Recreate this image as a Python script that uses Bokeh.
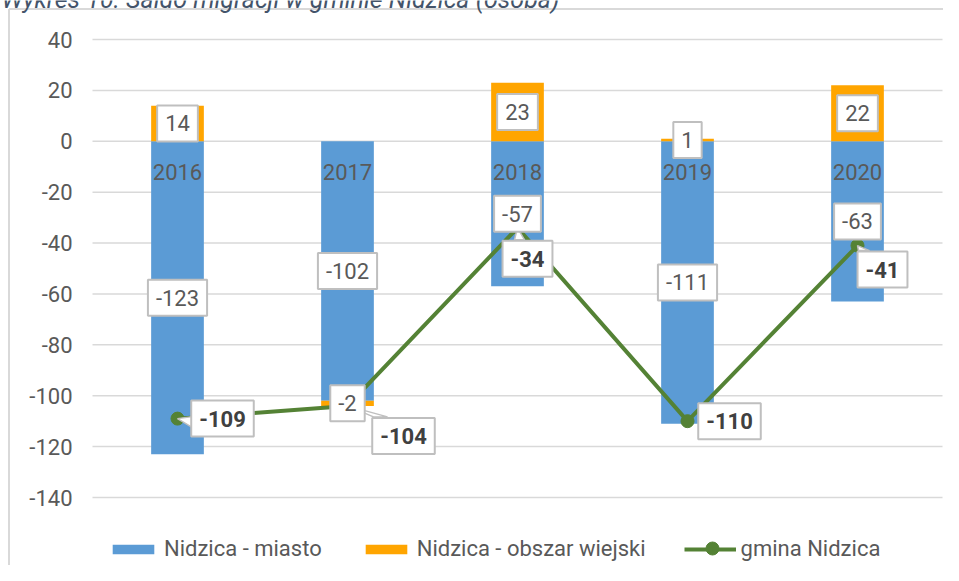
from bokeh.plotting import figure
from bokeh.models import Range1d, Label, Legend, LegendItem
from bokeh.embed import file_html
from bokeh.resources import INLINE

# ---------------- data ----------------
title_text = "Wykres 10. Saldo migracji w gminie Nidzica (osoba)"
years = ["2016", "2017", "2018", "2019", "2020"]
miasto = [-123, -102, -57, -111, -63]          # Nidzica - miasto
wiejski = [14, -2, 23, 1, 22]                  # Nidzica - obszar wiejski
gmina = [-109, -104, -34, -110, -41]           # gmina Nidzica
y_ticks = [40, 20, 0, -20, -40, -60, -80, -100, -120, -140]
series_names = ["Nidzica - miasto", "Nidzica - obszar wiejski", "gmina Nidzica"]

# ---------------- styling ----------------
FONT = "Roboto"
FS = "22px"
BLUE = "#5B9BD5"
ORANGE = "#FFA500"
GREEN = "#548235"
TXT = "#595959"
BOLD_TXT = "#404040"
BOX_LINE = "#bfbfbf"
GRID = "#d9d9d9"
TITLE_COLOR = "#44546A"

W, H = 943, 565
# plot-area bounds in canvas pixels
PA_L, PA_R, PA_T, PA_B = 92, 942, 39, 497
# legend placement (px)
LEG_X, LEG_Y, LEG_CY = 107, 4, 548
LEG_GLYPH_W, LEG_STANDOFF, LEG_SPACING = 52, 5, 38
LEG_MARKER_X = 712

n = len(years)
xs = [i + 0.5 for i in range(n)]
sx = (PA_R - PA_L) / n
sy = (PA_B - PA_T) / (max(y_ticks) - min(y_ticks))


def X(px):
    return (px - PA_L) / sx


def Y(py):
    return max(y_ticks) - (py - PA_T) / sy


# callout offsets (px) of the line-series labels and pointer bases relative to box centre
gmina_offsets = [(45, 0), (56, -30), (10, -31), (42, 0), (25, -24)]
pointer_bases = [
    [(-30, 2), (-30, -9)],
    [(-30, 19), (-16, 19)],
    [(-13, 19), (-3, 19)],
    None,
    [(-24, 19), (-13, 19)],
]

p = figure(width=W, height=H,
           x_range=Range1d(X(0), X(W)), y_range=Range1d(Y(H), Y(0)),
           x_axis_type=None, y_axis_type=None,
           output_backend="svg", toolbar_location=None, min_border=0)
p.outline_line_color = None
p.background_fill_color = "white"
p.border_fill_color = "white"
p.xgrid.visible = False
p.ygrid.visible = False

# chart border (left and top)
p.line([X(8.5), X(8.5)], [Y(8.5), Y(H)], line_color=GRID, line_width=2)
p.line([X(8.5), X(W)], [Y(8.5), Y(8.5)], line_color=GRID, line_width=2)

# gridlines
p.segment(x0=[0] * len(y_ticks), x1=[n] * len(y_ticks), y0=y_ticks, y1=y_ticks,
          line_color=GRID, line_width=1.5)

BAR_W = 0.31
r_blue = p.vbar(x=xs, bottom=miasto, top=[0] * n, width=BAR_W,
                fill_color=BLUE, line_color=None)
w_base = [0 if w >= 0 else min(m, 0) for m, w in zip(miasto, wiejski)]
w_top = [b + w for b, w in zip(w_base, wiejski)]
r_orange = p.vbar(x=xs, bottom=w_base, top=w_top, width=BAR_W,
                  fill_color=ORANGE, line_color=None)

r_line = p.line(xs, gmina, line_color=GREEN, line_width=4)
r_pts = p.scatter(xs, gmina, size=13, fill_color=GREEN, line_color=GREEN)

# callout pointers
ux, uy = 1 / sx, 1 / sy
pxs, pys = [], []
for x, y, (dx, dy), base in zip(xs, gmina, gmina_offsets, pointer_bases):
    if base is None:
        continue
    cx, cy = x + dx * ux, y + dy * uy
    (b1x, b1y), (b2x, b2y) = base
    pxs.append([x, cx + b1x * ux, cx + b2x * ux])
    pys.append([y, cy + b1y * uy, cy + b2y * uy])
p.patches(pxs, pys, fill_color="white", line_color=BOX_LINE, line_width=1.5)


def box_label(x, y, text, dx=0, dy=0, bold=False):
    return Label(x=x, y=y, text=text, x_offset=dx, y_offset=dy,
                 text_align="center", text_baseline="middle",
                 text_font=FONT, text_font_size=FS,
                 text_font_style="bold" if bold else "normal",
                 text_color=BOLD_TXT if bold else TXT,
                 background_fill_color="white",
                 border_line_color=BOX_LINE, border_line_width=2,
                 padding=(8, 10))


# title (only its lower part is visible, as in the reference)
p.add_layout(Label(x=X(1), y=Y(-1.5), text=title_text, text_align="left",
                   text_baseline="alphabetic", text_font=FONT,
                   text_font_size="25px", text_font_style="italic",
                   text_color=TITLE_COLOR))

# y tick labels
for t in y_ticks:
    p.add_layout(Label(x=0, y=t, text=str(t), x_offset=-20,
                       text_align="right", text_baseline="middle",
                       text_font=FONT, text_font_size=FS, text_color=TXT))

# category labels
for x, yr in zip(xs, years):
    p.add_layout(Label(x=x, y=0, text=yr, y_offset=-31,
                       text_align="center", text_baseline="middle",
                       text_font=FONT, text_font_size=FS, text_color=TXT))

for x, m in zip(xs, miasto):
    p.add_layout(box_label(x, m / 2, str(m)))
for x, b, w in zip(xs, w_base, wiejski):
    p.add_layout(box_label(x, b + w / 2, str(w)))
for x, g, (dx, dy) in zip(xs, gmina, gmina_offsets):
    p.add_layout(box_label(x, g, str(g), dx, dy, bold=True))

# larger marker for the line-series legend entry
p.scatter([X(LEG_MARKER_X)], [Y(LEG_CY)], size=13, fill_color=GREEN, line_color=GREEN)

legend = Legend(items=[
    LegendItem(label=series_names[0], renderers=[r_blue]),
    LegendItem(label=series_names[1], renderers=[r_orange]),
    LegendItem(label=series_names[2], renderers=[r_line, r_pts]),
], orientation="horizontal", location=(LEG_X, LEG_Y),
    glyph_width=LEG_GLYPH_W, glyph_height=12, label_standoff=LEG_STANDOFF,
    spacing=LEG_SPACING,
    padding=0, margin=0, border_line_color=None, background_fill_alpha=0,
    label_text_font=FONT, label_text_font_size=FS, label_text_color=TXT)
p.add_layout(legend)

open("out.html", "w").write(file_html(p, INLINE))
